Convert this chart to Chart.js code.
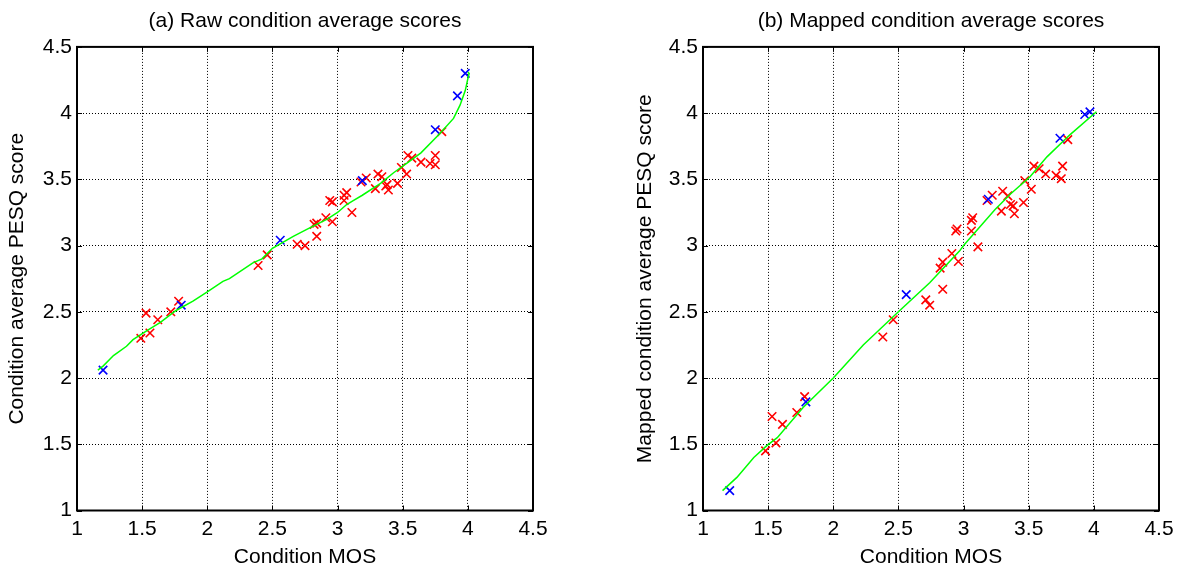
<!DOCTYPE html>
<html>
<head>
<meta charset="utf-8">
<script src="https://cdn.jsdelivr.net/npm/chart.js@4.4.1/dist/chart.umd.min.js"></script>
<style>
  html, body { margin: 0; padding: 0; background: #fff; }
  .panel { position: absolute; top: 0; width: 593px; height: 567px; }
</style>
</head>
<body>
<div class="panel" style="left:0"><canvas id="rawChart" width="593" height="567"></canvas></div>
<div class="panel" style="left:593px"><canvas id="mapChart" width="593" height="567"></canvas></div>
<script>
// tick values shared by both axes
const axisTicks = [1, 1.5, 2, 2.5, 3, 3.5, 4, 4.5];

// (a) raw condition average scores
const rawRedX = [1.49,1.53,1.56,1.62,1.72,1.78,2.39,2.46,2.69,2.75,2.82,2.84,2.84,2.91,2.94,2.96,2.96,3.05,3.05,3.07,3.11,3.18,3.22,3.29,3.31,3.34,3.37,3.38,3.39,3.46,3.49,3.53,3.54,3.57,3.64,3.71,3.75,3.75,3.80];
const rawRedY = [2.30,2.49,2.34,2.44,2.50,2.58,2.85,2.93,3.01,3.00,3.16,3.17,3.07,3.21,3.34,3.33,3.18,3.38,3.34,3.40,3.25,3.48,3.51,3.43,3.54,3.52,3.45,3.46,3.42,3.47,3.59,3.54,3.68,3.66,3.63,3.62,3.68,3.61,3.86];
const rawBlueX = [1.20,1.80,2.56,3.19,3.75,3.92,3.98];
const rawBlueY = [2.06,2.55,3.04,3.49,3.875,4.13,4.30];
const rawLineX = [1.16,1.20,1.28,1.38,1.43,1.54,1.64,1.76,1.89,2.00,2.12,2.17,2.35,2.42,2.50,2.66,2.76,2.92,3.00,3.07,3.12,3.19,3.33,3.43,3.53,3.64,3.78,3.89,3.94,3.98,4.00,4.01,4.00];
const rawLineY = [2.06,2.09,2.17,2.24,2.29,2.36,2.42,2.51,2.58,2.65,2.73,2.75,2.87,2.90,2.98,3.07,3.12,3.20,3.25,3.31,3.34,3.38,3.47,3.55,3.62,3.70,3.84,3.96,4.06,4.17,4.26,4.30,4.31];

// (b) mapped condition average scores
const mapRedX = [1.48,1.53,1.56,1.61,1.72,1.78,2.38,2.46,2.71,2.74,2.82,2.84,2.84,2.91,2.94,2.95,2.96,3.06,3.06,3.07,3.11,3.18,3.22,3.29,3.30,3.34,3.36,3.38,3.39,3.46,3.47,3.52,3.54,3.58,3.63,3.71,3.75,3.76,3.80];
const mapRedY = [1.45,1.71,1.51,1.65,1.74,1.86,2.31,2.44,2.59,2.55,2.83,2.875,2.67,2.94,3.11,3.125,2.88,3.19,3.11,3.21,2.99,3.34,3.38,3.26,3.41,3.375,3.31,3.30,3.24,3.325,3.49,3.425,3.60,3.58,3.54,3.53,3.505,3.60,3.80];
const mapBlueX = [1.205,1.79,2.56,3.19,3.74,3.93,3.97];
const mapBlueY = [1.15,1.82,2.63,3.35,3.81,3.99,4.01];
const mapLineX = [1.15,1.26,1.39,1.49,1.57,1.77,2.00,2.23,2.50,2.74,2.97,3.00,3.24,3.36,3.51,3.64,3.82,4.02];
const mapLineY = [1.15,1.25,1.40,1.49,1.55,1.78,2.00,2.25,2.50,2.72,2.96,3.00,3.27,3.39,3.52,3.67,3.84,4.01];

const FONT = '"Liberation Sans", Arial, sans-serif';
Chart.defaults.font.family = FONT;
Chart.defaults.color = '#000';

function pts(xs, ys) {
  return xs.map((x, i) => ({ x: x, y: ys[i] }));
}

// box around the axes plus small inward tick marks, like matlab
const framePlugin = {
  id: 'frame',
  afterDraw(chart) {
    const { ctx, chartArea: a, scales } = chart;
    ctx.save();
    ctx.strokeStyle = '#000';
    ctx.lineWidth = 1;
    ctx.setLineDash([]);
    ctx.beginPath();
    scales.x.ticks.forEach(t => {
      const p = Math.round(scales.x.getPixelForValue(t.value)) + 0.5;
      ctx.moveTo(p, a.bottom); ctx.lineTo(p, a.bottom - 5);
      ctx.moveTo(p, a.top); ctx.lineTo(p, a.top + 5);
    });
    scales.y.ticks.forEach(t => {
      const p = Math.round(scales.y.getPixelForValue(t.value)) + 0.5;
      ctx.moveTo(a.left, p); ctx.lineTo(a.left + 5, p);
      ctx.moveTo(a.right, p); ctx.lineTo(a.right - 5, p);
    });
    ctx.stroke();
    ctx.lineWidth = 2;
    ctx.strokeRect(a.left, a.top, a.right - a.left, a.bottom - a.top);
    ctx.restore();
  }
};

function makeChart(id, title, yTitle, red, blue, line, padLeft, padRight, yTitlePad) {
  const setTicks = s => { s.ticks = axisTicks.map(v => ({ value: v })); };
  const fmt = v => String(v);
  return new Chart(document.getElementById(id), {
    type: 'scatter',
    data: {
      datasets: [
        {
          data: line, showLine: true, borderColor: '#00ff00', borderWidth: 1.5,
          pointRadius: 0, tension: 0, order: 0
        },
        {
          data: blue, pointStyle: 'crossRot', pointRadius: 6, borderColor: '#0000ff',
          backgroundColor: '#0000ff', pointBorderWidth: 1.6, order: 1
        },
        {
          data: red, pointStyle: 'crossRot', pointRadius: 6, borderColor: '#ff0000',
          backgroundColor: '#ff0000', pointBorderWidth: 1.6, order: 2
        }
      ]
    },
    options: {
      responsive: false,
      animation: false,
      layout: { padding: { left: padLeft, right: padRight, top: 0, bottom: 0 } },
      plugins: {
        legend: { display: false },
        tooltip: { enabled: false },
        title: {
          display: true, text: title, color: '#000', fullSize: false,
          font: { size: 21, weight: 'normal' },
          padding: { top: 9, bottom: 12.7 }
        }
      },
      scales: {
        x: {
          type: 'linear', min: 1, max: 4.5,
          afterBuildTicks: setTicks,
          afterFit: s => { s.height = 56.5; },
          grid: { color: '#000', lineWidth: 1, drawTicks: false },
          border: { display: false, dash: [1, 2] },
          ticks: { padding: 6, color: '#000', font: { size: 21 }, maxRotation: 0, autoSkip: false, callback: fmt },
          title: {
            display: true, text: 'Condition MOS', color: '#000',
            font: { size: 21, lineHeight: 0.8 }, padding: { top: 0, bottom: 1 }
          }
        },
        y: {
          type: 'linear', min: 1, max: 4.5,
          afterBuildTicks: setTicks,
          afterFit: s => { s.width = 77; },
          grid: { color: '#000', lineWidth: 1, drawTicks: false },
          border: { display: false, dash: [1, 2] },
          ticks: { padding: 5, color: '#000', font: { size: 21 }, autoSkip: false, callback: fmt },
          title: {
            display: true, text: yTitle, color: '#000',
            font: { size: 21 }, padding: { top: yTitlePad, bottom: 0 }
          }
        }
      }
    },
    plugins: [framePlugin]
  });
}

makeChart('rawChart', '(a) Raw condition average scores', 'Condition average PESQ score',
  pts(rawRedX, rawRedY), pts(rawBlueX, rawBlueY), pts(rawLineX, rawLineY), 0, 60, 4.4);

makeChart('mapChart', '(b) Mapped condition average scores', 'Mapped condition average PESQ score',
  pts(mapRedX, mapRedY), pts(mapBlueX, mapBlueY), pts(mapLineX, mapLineY), 33, 27, 6.4);
</script>
</body>
</html>
